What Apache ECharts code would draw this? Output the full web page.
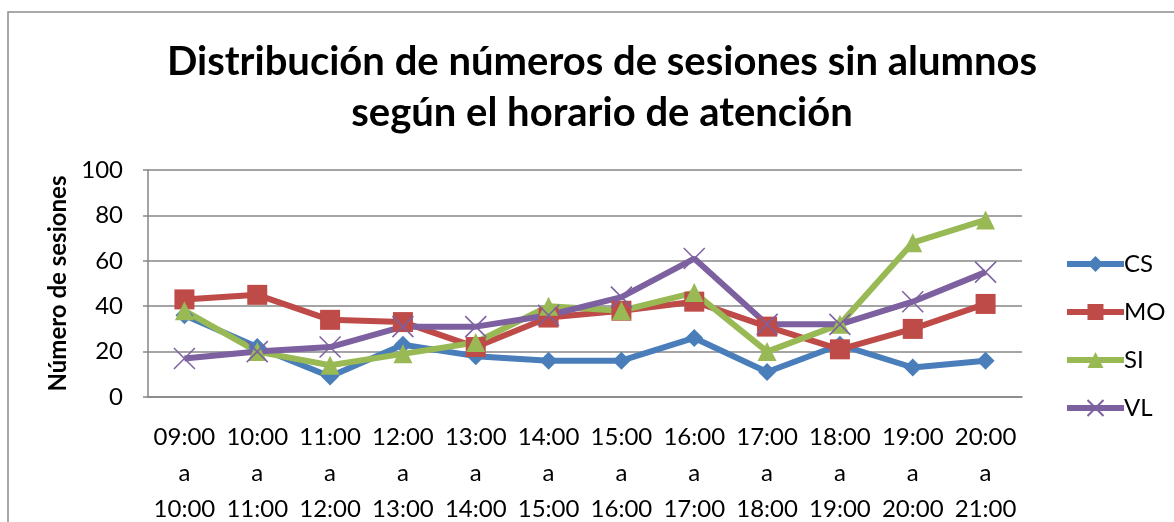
<!DOCTYPE html>
<html>
<head>
<meta charset="utf-8">
<script src="https://cdn.jsdelivr.net/npm/echarts@6/dist/echarts.min.js"></script>
<style>
  html, body { margin: 0; padding: 0; background: #fff; }
  #main { width: 1174px; height: 522px; }
</style>
</head>
<body>
<div id="main"></div>
<script>
// franjas horarias
var horarios = ['09:00\na\n10:00', '10:00\na\n11:00', '11:00\na\n12:00', '12:00\na\n13:00',
    '13:00\na\n14:00', '14:00\na\n15:00', '15:00\na\n16:00', '16:00\na\n17:00',
    '17:00\na\n18:00', '18:00\na\n19:00', '19:00\na\n20:00', '20:00\na\n21:00'];
var CS = [36, 22, 9, 23, 18, 16, 16, 26, 11, 23, 13, 16];
var MO = [43, 45, 34, 33, 22, 35, 38, 42, 31, 21, 30, 41];
var SI = [38, 20, 14, 19, 24, 40, 38, 46, 20, 32, 68, 78];
var VL = [17, 20, 22, 31, 31, 36, 44, 61, 32, 32, 42, 55];
var yTicks = [0, 20, 40, 60, 80, 100];

var fuente = 'Lato, "Open Sans", sans-serif';
var chart = echarts.init(document.getElementById('main'));

function serie(name, data, color, symbol, size) {
    return {
        name: name,
        type: 'line',
        data: data,
        symbol: symbol,
        symbolSize: size,
        showAllSymbol: true,
        lineStyle: { color: color, width: 6 },
        itemStyle: { color: color, borderColor: color, borderWidth: 0 },
        emphasis: { disabled: true },
        z: 3
    };
}

var vl = serie('VL', VL, '#7D60A0', 'path://M0,0 L10,10 M10,0 L0,10', 21);
vl.itemStyle.borderWidth = 1.5;

var option = {
    animation: false,
    backgroundColor: '#fff',
    textStyle: { fontFamily: fuente },
    title: {
        text: 'Distribución de números de sesiones sin alumnos\nsegún el horario de atención',
        left: 597,
        textAlign: 'center',
        top: 32,
        textStyle: { fontFamily: fuente, fontWeight: 'bold', fontSize: 40, lineHeight: 51, color: '#000' }
    },
    graphic: [{
        type: 'rect',
        shape: { x: 8, y: 12, width: 1180, height: 520 },
        style: { fill: 'none', stroke: '#8c8c8c', lineWidth: 1.5 },
        silent: true
    }],
    legend: {
        orient: 'vertical',
        left: 1059,
        top: 247,
        itemGap: 24,
        itemWidth: 57,
        itemHeight: 20,
        lineStyle: { width: 6 },
        textStyle: { fontFamily: fuente, fontSize: 24, color: '#000', padding: [0, 0, 0, -5] },
        data: ['CS', 'MO', 'SI', 'VL']
    },
    grid: { left: 148, right: 152, top: 170, bottom: 125, outerBoundsMode: 'none' },
    xAxis: {
        type: 'category',
        data: horarios,
        boundaryGap: true,
        axisLine: { lineStyle: { color: '#868686', width: 1.5 } },
        axisTick: { show: false },
        axisLabel: { color: '#000', fontSize: 24, lineHeight: 36, margin: 22, interval: 0 }
    },
    yAxis: {
        type: 'value',
        min: yTicks[0],
        max: yTicks[yTicks.length - 1],
        interval: 20,
        name: 'Número de sesiones',
        nameLocation: 'middle',
        nameGap: 68,
        nameTextStyle: { fontFamily: fuente, fontWeight: 'bold', fontSize: 24, color: '#000' },
        axisLine: { show: true, lineStyle: { color: '#868686', width: 1.5 } },
        axisTick: { show: true, length: 5, lineStyle: { color: '#868686', width: 1.5 } },
        axisLabel: { color: '#000', fontSize: 24, margin: 25 },
        splitLine: { lineStyle: { color: '#868686', width: 1.5 } }
    },
    series: [
        serie('CS', CS, '#4A7EBB', 'diamond', 18),
        serie('MO', MO, '#BE4B48', 'rect', 20),
        serie('SI', SI, '#98B954', 'triangle', 19),
        vl
    ]
};
chart.setOption(option);
</script>
</body>
</html>
